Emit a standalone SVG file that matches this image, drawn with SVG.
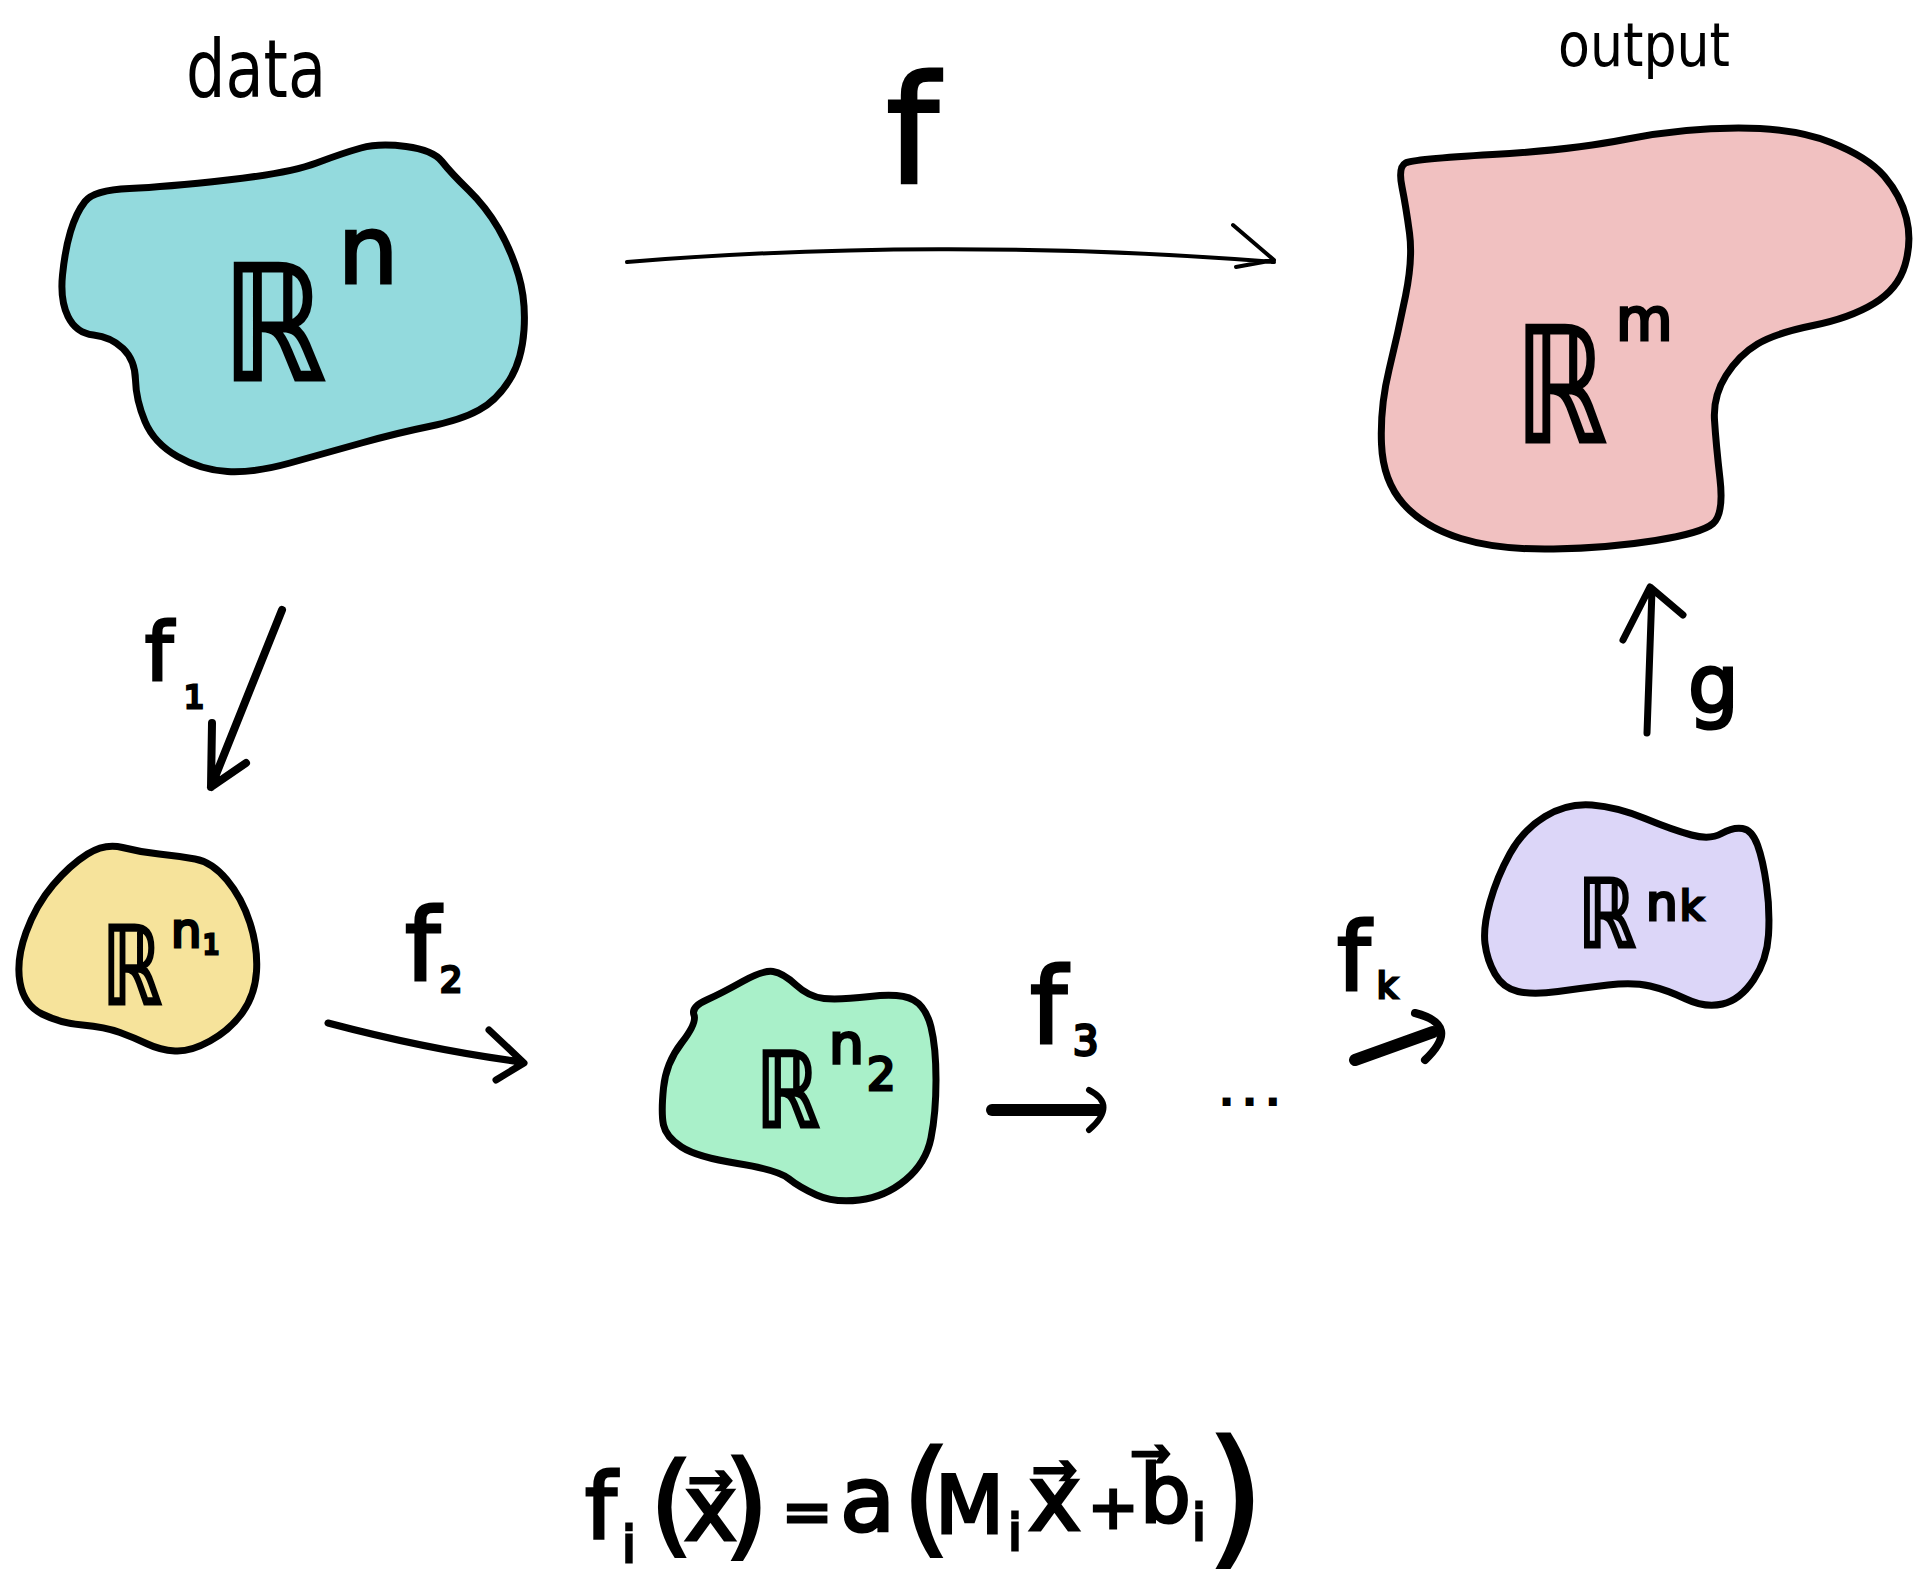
<svg xmlns="http://www.w3.org/2000/svg" width="1921" height="1592" viewBox="0 0 1921 1592">
<style>
.blob{stroke:#000;stroke-width:7;stroke-linejoin:round}
.hand{font-family:"DejaVu Sans",sans-serif;fill:#000}
.lbl{font-family:"DejaVu Sans",sans-serif;fill:#000;stroke:#000;stroke-width:3}
.con{fill:none;stroke:#000;stroke-linecap:round;stroke-linejoin:round}
</style>
<rect width="1921" height="1592" fill="#fff"/>
<g id="node-data">
<path class="blob" fill="#93dadd" d="M85,201.5 Q94,190 129.5,188.5 Q165,187 227.5,180 Q290,173 316.5,163 Q343,153 361,148 Q379,143 406,146.5 Q433,150 442,161.5 Q451,173 468.5,190 Q486,207 498.5,228.5 Q511,250 518.5,275 Q526,300 524,330 Q522,360 509.5,380 Q497,400 479,410 Q461,420 429,426.5 Q397,433 361.5,443 Q326,453 290,463 Q254,473 227.5,471.5 Q201,470 177.5,456.5 Q154,443 145,421.5 Q136,400 135.5,380 Q135,360 123,348.5 Q111,337 93.5,335 Q76,333 68,316.5 Q60,300 62.5,275 Q65,250 70.5,231.5 Q76,213 85,201.5 Z"/>
<text class="hand" x="186" y="97" font-size="80" textLength="140" lengthAdjust="spacingAndGlyphs">data</text>
<text class="lbl" x="222" y="380" font-size="160" textLength="104" lengthAdjust="spacingAndGlyphs">ℝ</text>
<text class="lbl" x="338" y="283" font-size="95">n</text>
</g>
<g id="node-output">
<path class="blob" fill="#f1c1c1" d="M1402,187 Q1398,167 1405.5,163 Q1413,159 1492.5,154.5 Q1572,150 1627.5,139 Q1683,128 1738.5,128 Q1794,128 1831,142.5 Q1868,157 1884.5,176.5 Q1901,196 1906.5,218.5 Q1912,241 1905,265 Q1898,289 1874,303.5 Q1850,318 1813,325.5 Q1776,333 1757.5,344 Q1739,355 1726,375.5 Q1713,396 1714.5,420 Q1716,444 1720,479 Q1724,514 1713,523.5 Q1702,533 1655.5,540.5 Q1609,548 1553.5,549 Q1498,550 1461,538.5 Q1424,527 1403.5,504 Q1383,481 1381.5,444 Q1380,407 1389,370 Q1398,333 1405.5,296 Q1413,259 1409.5,233 Q1406,207 1402,187 Z"/>
<text class="hand" x="1558" y="66" font-size="60" textLength="172" lengthAdjust="spacingAndGlyphs">output</text>
<text class="lbl" x="1515" y="442" font-size="160" textLength="92" lengthAdjust="spacingAndGlyphs">ℝ</text>
<text class="lbl" x="1616" y="340" font-size="58">m</text>
</g>
<g id="node-n1">
<path class="blob" fill="#f6e39b" d="M20,982.5 Q16,960 26,932.5 Q36,905 53,885 Q70,865 87.5,854 Q105,843 122.5,847.5 Q140,852 159,854 Q178,856 195,859 Q212,862 227,880 Q242,898 250,923 Q258,948 256.5,971.5 Q255,995 242.5,1012.5 Q230,1030 210,1041 Q190,1052 175,1051 Q160,1050 147.5,1044 Q135,1038 120,1032.5 Q105,1027 82.5,1025 Q60,1023 42,1014 Q24,1005 20,982.5 Z"/>
<text class="lbl" x="102" y="1004" font-size="108" stroke-width="2" textLength="60" lengthAdjust="spacingAndGlyphs">ℝ</text>
<text class="lbl" x="171" y="947" font-size="48" stroke-width="2">n<tspan x="203" y="954" font-size="26">1</tspan></text>
</g>
<g id="node-n2">
<path class="blob" fill="#a9f0c9" d="M663.5,1125 Q661,1113 663.5,1088 Q666,1063 681.5,1043 Q697,1023 694,1015 Q691,1007 706.5,1000 Q722,993 742.5,981.5 Q763,970 773,971.5 Q783,973 796,985 Q809,997 824,998.5 Q839,1000 870,996.5 Q901,993 913.5,1000 Q926,1007 931,1027 Q936,1047 936,1080 Q936,1113 931,1138 Q926,1163 905.5,1180 Q885,1197 859.5,1200 Q834,1203 816.5,1195 Q799,1187 788.5,1178.5 Q778,1170 737.5,1163.5 Q697,1157 681.5,1147 Q666,1137 663.5,1125 Z"/>
<text class="lbl" x="756" y="1127" font-size="105" stroke-width="2" textLength="64" lengthAdjust="spacingAndGlyphs">ℝ</text>
<text class="lbl" x="829" y="1063" font-size="55" stroke-width="2">n<tspan x="867" y="1090" font-size="45">2</tspan></text>
</g>
<g id="node-nk">
<path class="blob" fill="#dcd6f8" d="M1485,943.5 Q1483,927 1490,902 Q1497,877 1510,853.5 Q1523,830 1545,816.5 Q1567,803 1592,805 Q1617,807 1645,818.5 Q1673,830 1691.5,835 Q1710,840 1721.5,833.5 Q1733,827 1742.5,828.5 Q1752,830 1757.5,845 Q1763,860 1766.5,885 Q1770,910 1768.5,935 Q1767,960 1753.5,980 Q1740,1000 1722.5,1004 Q1705,1008 1686,999 Q1667,990 1650,986 Q1633,982 1608,985 Q1583,988 1558,991.5 Q1533,995 1518,991.5 Q1503,988 1495,974 Q1487,960 1485,943.5 Z"/>
<text class="lbl" x="1578" y="947" font-size="95" stroke-width="2" textLength="58" lengthAdjust="spacingAndGlyphs">ℝ</text>
<text class="lbl" x="1646" y="920" font-size="50" stroke-width="2">n<tspan x="1680" y="920" font-size="40">k</tspan></text>
</g>
<g id="connectors">
<path class="con" stroke-width="4" d="M627,262 C820,246 1050,244 1274,262 M1233,225 L1274,260 L1236,267"/>
<path class="con" stroke-width="8" d="M282,610 L211,787 M212,723 L211,787 L246,763"/>
<path class="con" stroke-width="7" d="M328,1023 Q430,1050 522,1062 M489,1030 L524,1063 L496,1080"/>
<path class="con" stroke-width="12" d="M992,1110 L1099,1110"/>
<path class="con" stroke-width="6" d="M1089,1090 Q1118,1105 1089,1130"/>
<path class="con" stroke-width="12" d="M1355,1060 L1433,1032"/>
<path class="con" stroke-width="8" d="M1415,1013 Q1462,1025 1425,1060"/>
<path class="con" stroke-width="7" d="M1647,733 L1652,590 M1623,640 L1650,587 L1683,615"/>
</g>
<g id="labels">
<text class="lbl" x="886" y="183" font-size="150" stroke-width="2">f</text>
<text class="lbl" x="145" y="680" font-size="80" stroke-width="1.5">f<tspan x="184" y="708" font-size="32">1</tspan></text>
<text class="lbl" x="405" y="980" font-size="100" stroke-width="1.5">f<tspan x="440" y="992" font-size="35">2</tspan></text>
<text class="lbl" x="1030" y="1043" font-size="105" stroke-width="1.5">f<tspan x="1073" y="1055" font-size="40">3</tspan></text>
<text class="hand" x="1218" y="1106" font-size="45" font-weight="bold" letter-spacing="6">...</text>
<text class="lbl" x="1337" y="990" font-size="95" stroke-width="1.5">f<tspan x="1377" y="998" font-size="35">k</tspan></text>
<text class="lbl" x="1688" y="712" font-size="80" stroke-width="1.5">g</text>
</g>
<g id="formula">
<text class="lbl" font-size="90" stroke-width="2"><tspan x="585" y="1538">f</tspan><tspan x="622" y="1562" font-size="50">i</tspan><tspan x="650" y="1542" font-size="110">(</tspan><tspan x="684" y="1540">x⃗</tspan><tspan x="724" y="1544" font-size="115">)</tspan><tspan x="782" y="1532" font-size="60">=</tspan><tspan x="840" y="1531">a</tspan><tspan x="902" y="1540" font-size="125">(</tspan><tspan x="935" y="1533" font-size="80">M</tspan><tspan x="1008" y="1550" font-size="50">i</tspan><tspan x="1028" y="1530">x⃗</tspan><tspan x="1088" y="1528" font-size="60">+</tspan><tspan x="1140" y="1522" font-size="80">b⃗</tspan><tspan x="1192" y="1540" font-size="50">i</tspan><tspan x="1206" y="1548" font-size="150">)</tspan></text>
</g>
</svg>
